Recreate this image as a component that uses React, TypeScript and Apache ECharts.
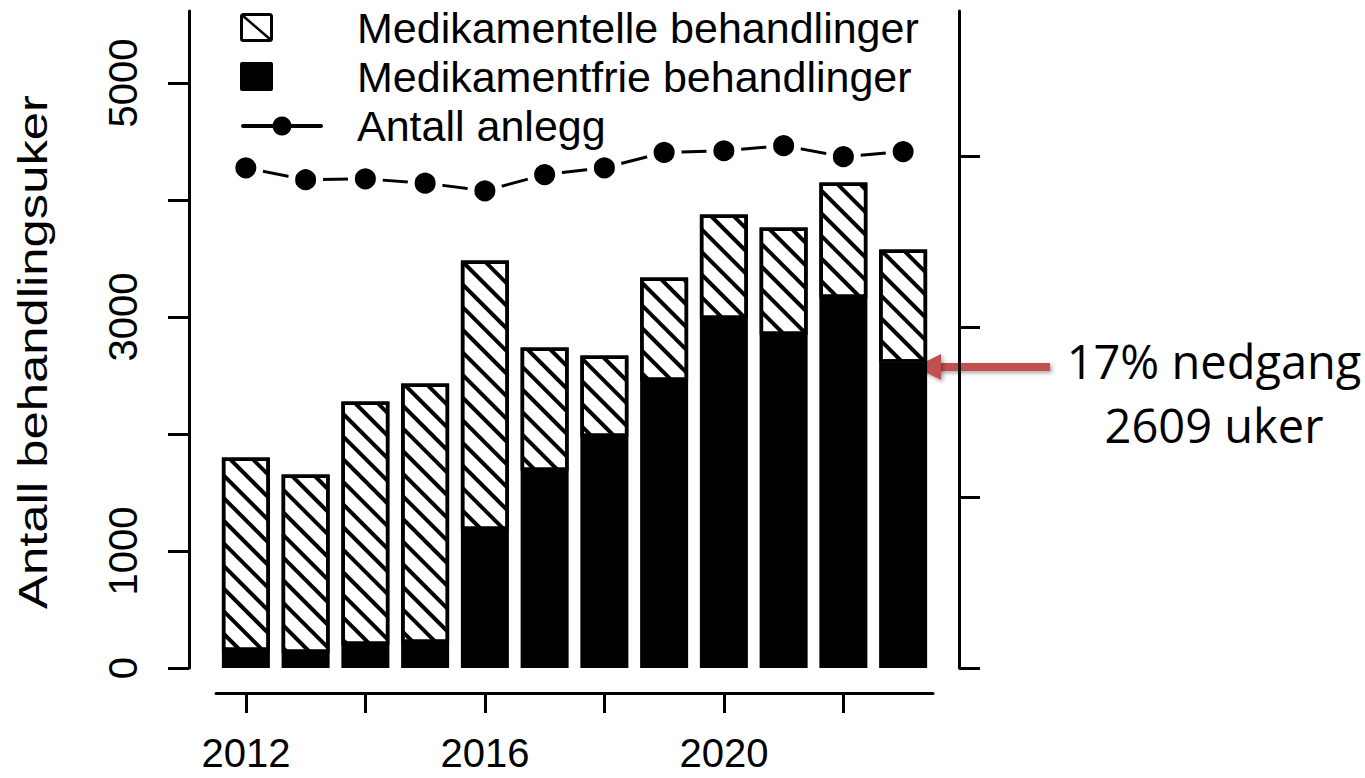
import React, { useEffect, useRef } from "react";
import * as echarts from "echarts";

// ---- data ----
const years = ["2012", "2013", "2014", "2015", "2016", "2017", "2018", "2019", "2020", "2021", "2022", "2023"];
const medikamentfrie = [145, 128, 197, 214, 1179, 1684, 1974, 2453, 2983, 2846, 3162, 2609];
const medikamentelle = [1654, 1526, 2081, 2218, 2304, 1055, 697, 885, 893, 919, 988, 968];
const antallAnlegg = [587, 573, 574, 569, 560, 579, 587, 605, 607, 613, 600, 606];
const leftTicks = [0, 1000, 2000, 3000, 4000, 5000];
const leftLabels = [0, 1000, 3000, 5000];
const rightTicks = [0, 200, 400, 600];
const legendLabels = ["Medikamentelle behandlinger", "Medikamentfrie behandlinger", "Antall anlegg"];
const yAxisTitle = "Antall behandlingsuker";
const noteLines = ["17% nedgang", "2609 uker"];

const FONT = '"Liberation Sans", Arial, Helvetica, sans-serif';
const NOTE_FONT = '"Open Sans", "Noto Sans", sans-serif';
const RED = "#C0504D";

export default function App() {
  const ref = useRef<HTMLDivElement>(null);

  useEffect(() => {
    if (!ref.current) return;
    const chart = echarts.init(ref.current, undefined, { renderer: "svg" });

    const option: any = {
      animation: false,
      backgroundColor: "#fff",
      textStyle: { fontFamily: FONT, color: "#000" },
      grid: { left: 216, top: 11, width: 717, height: 657, containLabel: false, outerBoundsMode: "none" },
      xAxis: {
        type: "category",
        data: years,
        offset: 25,
        axisLine: { show: true, onZero: false, lineStyle: { color: "#000", width: 3 } },
        axisTick: { show: true, alignWithLabel: true, interval: 1, length: 20, lineStyle: { color: "#000", width: 3 } },
        axisLabel: { show: true, interval: 3, fontSize: 40, lineHeight: 30, margin: 45, color: "#000", fontFamily: FONT },
        splitLine: { show: false },
      },
      yAxis: [
        {
          type: "value",
          position: "left",
          min: 0,
          max: 5615,
          offset: 27,
          axisLine: { show: true, lineStyle: { color: "#000", width: 3 } },
          axisTick: { show: true, customValues: leftTicks, length: 21, lineStyle: { color: "#000", width: 3 } },
          axisLabel: {
            customValues: leftLabels,
            rotate: 90,
            fontSize: 40,
            margin: 46,
            color: "#000",
            fontFamily: FONT,
            formatter: (v: number) => String(v),
          },
          splitLine: { show: false },
        },
        {
          type: "value",
          position: "right",
          min: 0,
          max: 771,
          offset: 26,
          axisLine: { show: true, lineStyle: { color: "#000", width: 3 } },
          axisTick: { show: true, customValues: rightTicks, length: 21, lineStyle: { color: "#000", width: 3 } },
          axisLabel: { show: false },
          splitLine: { show: false },
        },
      ],
      series: [
        {
          name: legendLabels[1],
          type: "bar",
          stack: "b",
          data: medikamentfrie,
          barWidth: 48,
          silent: true,
          itemStyle: { color: "#000", borderColor: "#000", borderWidth: 3 },
        },
        {
          name: legendLabels[0],
          type: "bar",
          stack: "b",
          data: medikamentelle,
          barWidth: 48,
          silent: true,
          itemStyle: {
            color: "#fff",
            borderColor: "#000",
            borderWidth: 3.5,
            decal: {
              symbol: "rect",
              symbolSize: 1,
              dashArrayX: [1, 0],
              dashArrayY: [3.5, 12],
              rotation: Math.PI / 4,
              color: "#000",
              backgroundColor: "#fff",
            },
          },
        },
        {
          name: legendLabels[2],
          type: "line",
          yAxisIndex: 1,
          data: antallAnlegg,
          symbol: "circle",
          symbolSize: 28,
          silent: true,
          z: 5,
          lineStyle: { color: "#000", width: 3 },
          itemStyle: { color: "#000", borderColor: "#fff", borderWidth: 7 },
          emphasis: { disabled: true },
        },
      ],
      graphic: [
        // legend
        { type: "rect", shape: { x: 241.5, y: 14.5, width: 30, height: 26, r: 2 }, style: { fill: "#fff", stroke: "#000", lineWidth: 3 } },
        { type: "line", shape: { x1: 242, y1: 15, x2: 271, y2: 40 }, style: { stroke: "#000", lineWidth: 2.5 } },
        { type: "rect", shape: { x: 240, y: 62, width: 33, height: 29, r: 2 }, style: { fill: "#000" } },
        { type: "line", shape: { x1: 243, y1: 126, x2: 321, y2: 126 }, style: { stroke: "#000", lineWidth: 4, lineCap: "round" } },
        { type: "circle", shape: { cx: 282, cy: 126, r: 9.5 }, style: { fill: "#000" } },
        ...legendLabels.map((t, i) => ({
          type: "text",
          x: 357,
          y: [28, 77, 126][i],
          style: { text: t, fontFamily: FONT, fontSize: 43, fill: "#000", textAlign: "left", textVerticalAlign: "middle" },
        })),
        // y axis title
        {
          type: "text",
          x: 33,
          y: 352,
          rotation: Math.PI / 2,
          scaleX: 1.27,
          style: { text: yAxisTitle, fontFamily: FONT, fontSize: 40, fill: "#000", textAlign: "center", textVerticalAlign: "middle" },
        },
        // arrow
        {
          type: "rect",
          shape: { x: 936, y: 363, width: 114, height: 8 },
          style: { fill: RED, shadowBlur: 4, shadowColor: "rgba(0,0,0,0.35)", shadowOffsetX: 2, shadowOffsetY: 2 },
        },
        {
          type: "polygon",
          shape: { points: [[915, 367], [941, 354], [941, 380]] },
          style: { fill: RED, shadowBlur: 4, shadowColor: "rgba(0,0,0,0.35)", shadowOffsetX: 2, shadowOffsetY: 2 },
        },
        ...noteLines.map((t, i) => ({
          type: "text",
          x: 1214,
          y: [361, 425][i],
          style: { text: t, fontFamily: NOTE_FONT, fontSize: 47, fill: "#000", textAlign: "center", textVerticalAlign: "middle" },
        })),
      ],
    };

    chart.setOption(option);
    return () => chart.dispose();
  }, []);

  return (
    <div
      ref={ref}
      style={{ position: "fixed", left: 0, top: 0, width: 1365, height: 778, background: "#fff" }}
    />
  );
}
